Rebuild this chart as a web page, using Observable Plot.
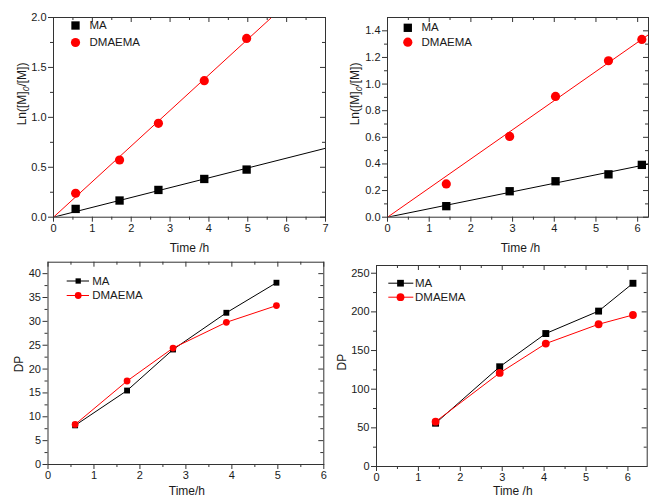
<!DOCTYPE html>
<html><head><meta charset="utf-8">
<script src="https://cdn.jsdelivr.net/npm/d3@7"></script>
<script src="https://cdn.jsdelivr.net/npm/@observablehq/plot@0.6"></script>
<style>
body{margin:0;background:#fff}
#wrap{position:relative;width:649px;height:500px;overflow:hidden;background:#fff}
#wrap svg{position:absolute;left:0;top:0}
</style></head><body><div id="wrap"></div>
<script>
// ---- data ----
const series = ["MA", "DMAEMA"];
const colors = ["#000000", "#ff0000"];
const symbols = ["square", "circle"];

// top-left: kinetics, ln([M]0/[M]) vs time
const timeA = [0.57, 1.70, 2.70, 3.88, 4.97];
const lnA_MA = [0.083, 0.167, 0.273, 0.383, 0.477];
const lnA_DMAEMA = [0.24, 0.573, 0.94, 1.367, 1.79];
const slopeA = [0.0986, 0.3565];

// top-right
const timeB = [1.41, 2.93, 4.03, 5.30, 6.10];
const lnB_MA = [0.083, 0.195, 0.27, 0.322, 0.393];
const lnB_DMAEMA = [0.25, 0.607, 0.907, 1.175, 1.335];
const slopeB = [0.0637, 0.219];

// bottom-left: DP vs time
const timeC = [0.59, 1.72, 2.72, 3.88, 4.97];
const dpC_MA = [8.2, 15.5, 24.1, 31.8, 38.1];
const dpC_DMAEMA = [8.4, 17.5, 24.4, 29.8, 33.3];

// bottom-right
const timeD = [1.41, 2.94, 4.04, 5.30, 6.12];
const dpD_MA = [56, 129, 172, 201, 237];
const dpD_DMAEMA = [58, 121, 159, 184, 196];

// tick labels
const ticksX7 = [0, 1, 2, 3, 4, 5, 6, 7];
const ticksX6 = [0, 1, 2, 3, 4, 5, 6];
const ticksYA = [0, 0.5, 1.0, 1.5, 2.0];
const ticksYB = [0, 0.2, 0.4, 0.6, 0.8, 1.0, 1.2, 1.4];
const ticksYC = [0, 5, 10, 15, 20, 25, 30, 35, 40];
const ticksYD = [0, 50, 100, 150, 200, 250];

const FONT = "'Liberation Sans', Arial, Helvetica, sans-serif";
const AX = "#333";
const TXT = "#1a1a1a";

function minorOf(ticks, extraEnd) {
  const step = ticks[1] - ticks[0];
  const out = [];
  for (let i = 0; i < ticks.length; i++) out.push(ticks[i] + step / 2);
  return out.filter(v => v < extraEnd);
}

function panel(cfg) {
  const [x0, y0, x1, y1] = cfg.frame;
  const fw = x1 - x0, fh = y1 - y0;
  const xMinor = minorOf(cfg.xTicks, cfg.xDomain[1]);
  const yMinor = minorOf(cfg.yTicks, cfg.yDomain[1]);
  const rows = [];
  series.forEach((s, k) => cfg.x.forEach((t, i) => rows.push({s, k, t, v: cfg.y[k][i]})));
  const marks = [
    // ticks: bottom/left outward, top/right inward
    Plot.tickX(cfg.xTicks, {x: d => d, insetTop: fh, insetBottom: -5, stroke: AX}),
    Plot.tickX(xMinor, {x: d => d, insetTop: fh, insetBottom: -3, stroke: AX}),
    Plot.tickX(cfg.xTicks, {x: d => d, insetTop: 0, insetBottom: fh - 5, stroke: AX}),
    Plot.tickX(xMinor, {x: d => d, insetTop: 0, insetBottom: fh - 3, stroke: AX}),
    Plot.tickY(cfg.yTicks, {y: d => d, insetLeft: -5, insetRight: fw, stroke: AX}),
    Plot.tickY(yMinor, {y: d => d, insetLeft: -3, insetRight: fw, stroke: AX}),
    Plot.tickY(cfg.yTicks, {y: d => d, insetLeft: fw - 5, insetRight: 0, stroke: AX}),
    Plot.tickY(yMinor, {y: d => d, insetLeft: fw - 3, insetRight: 0, stroke: AX}),
    Plot.axisX({ticks: cfg.xTicks, tickSize: 0, tickPadding: 7, fontSize: 11, tickFormat: d3.format("d"), label: null, fill: TXT}),
    Plot.axisY({ticks: cfg.yTicks, tickSize: 0, tickPadding: 7, fontSize: 11, tickFormat: cfg.yFmt, label: null, fill: TXT}),
  ];
  if (cfg.fit) {
    series.forEach((s, k) => {
      marks.push(Plot.line([0, cfg.xDomain[1]], {x: d => d, y: d => cfg.fit[k] * d, stroke: colors[k], strokeWidth: 1, clip: true}));
    });
  } else {
    series.forEach((s, k) => {
      marks.push(Plot.line(rows.filter(r => r.k === k), {x: "t", y: "v", stroke: colors[k], strokeWidth: 1}));
    });
  }
  series.forEach((s, k) => {
    marks.push(Plot.dot(rows.filter(r => r.k === k), {x: "t", y: "v", symbol: symbols[k], r: cfg.r[k], fill: colors[k], stroke: "none"}));
  });
  // legend
  const L = cfg.legend;
  series.forEach((s, k) => {
    const dy = L.dy[k];
    if (L.line) {
      marks.push(Plot.ruleY([cfg.yDomain[1]], {y: d => d, dy: dy, insetLeft: L.line[0], insetRight: fw - L.line[1], stroke: colors[k], strokeWidth: 1}));
    }
    marks.push(Plot.dot([s], {frameAnchor: "top-left", dx: L.mdx, dy: dy, symbol: symbols[k], r: L.r[k], fill: colors[k], stroke: "none"}));
    marks.push(Plot.text([s], {frameAnchor: "top-left", dx: L.tdx, dy: dy, text: d => d, textAnchor: "start", lineAnchor: "middle", fontSize: 11.5, fill: TXT}));
  });
  // axis titles
  marks.push(Plot.text([cfg.xLabel], {frameAnchor: "bottom", dx: cfg.xl[0], dy: cfg.xl[1], text: d => d, lineAnchor: "middle", fontSize: 12, fontWeight: "normal", fill: TXT}));
  marks.push(Plot.text([cfg.yLabel], {frameAnchor: "left", dx: cfg.yl[0], dy: cfg.yl[1], text: d => d, rotate: -90, lineAnchor: "middle", fontSize: 12, fontWeight: "normal", fill: TXT}));
  marks.push(Plot.frame({stroke: AX, strokeWidth: 1}));

  return Plot.plot({
    width: 649, height: 500,
    marginLeft: x0, marginTop: y0, marginRight: 649 - x1, marginBottom: 500 - y1,
    x: {domain: cfg.xDomain, axis: null},
    y: {domain: cfg.yDomain, axis: null},
    style: {background: "transparent", fontFamily: FONT, overflow: "visible"},
    marks
  });
}

const lnLabel = "Ln([M]0/[M])";
const plots = [
  panel({frame: [53, 17, 325, 216.7], xDomain: [0, 7], yDomain: [0, 2], xTicks: ticksX7, yTicks: ticksYA,
    yFmt: d3.format(".1f"), x: timeA, y: [lnA_MA, lnA_DMAEMA], fit: slopeA, r: [4.7, 4.6],
    legend: {mdx: 22, tdx: 36, dy: [8, 25], r: [4.7, 4.6]},
    xLabel: "Time /h", yLabel: lnLabel, xl: [0, 30.5], yl: [-31.3, 8]}),
  panel({frame: [387, 17, 648, 216.7], xDomain: [0, 6.26], yDomain: [0, 1.5], xTicks: ticksX6, yTicks: ticksYB,
    yFmt: d3.format(".1f"), x: timeB, y: [lnB_MA, lnB_DMAEMA], fit: slopeB, r: [4.7, 4.6],
    legend: {mdx: 20.3, tdx: 34, dy: [10.3, 24.7], r: [4.7, 4.6]},
    xLabel: "Time /h", yLabel: lnLabel, xl: [2.5, 30.5], yl: [-32, 8]}),
  panel({frame: [47.5, 261.7, 323.3, 464], xDomain: [0, 6], yDomain: [0, 42.4], xTicks: ticksX6, yTicks: ticksYC,
    yFmt: d3.format("d"), x: timeC, y: [dpC_MA, dpC_DMAEMA], fit: null, r: [3.3, 3.4],
    legend: {mdx: 30.2, tdx: 44.2, dy: [18.8, 33.3], r: [3.0, 3.4], line: [19.2, 41.5]},
    xLabel: "Time/h", yLabel: "DP", xl: [1, 27], yl: [-29, 9]}),
  panel({frame: [376, 265, 646.7, 466], xDomain: [0, 6.46], yDomain: [0, 260], xTicks: ticksX6, yTicks: ticksYD,
    yFmt: d3.format("d"), x: timeD, y: [dpD_MA, dpD_DMAEMA], fit: null, r: [3.9, 3.9],
    legend: {mdx: 24, tdx: 38.5, dy: [17.7, 31.7], r: [3.8, 3.9], line: [12.3, 37.3]},
    xLabel: "Time /h", yLabel: "DP", xl: [1, 25], yl: [-34.3, 4.5]})
];
const wrap = document.getElementById("wrap");
plots.forEach(p => wrap.appendChild(p));

// subscript 0 in the y-axis title
wrap.querySelectorAll("text").forEach(t => {
  if (t.textContent === lnLabel) {
    t.textContent = "";
    const ns = "http://www.w3.org/2000/svg";
    const a = document.createElementNS(ns, "tspan"); a.textContent = "Ln([M]";
    const b = document.createElementNS(ns, "tspan"); b.textContent = "0"; b.setAttribute("dy", "3"); b.setAttribute("font-size", "8.5"); b.setAttribute("font-style", "italic");
    const c = document.createElementNS(ns, "tspan"); c.textContent = "/[M])"; c.setAttribute("dy", "-3");
    t.appendChild(a); t.appendChild(b); t.appendChild(c);
  }
});
</script>
</body></html>
